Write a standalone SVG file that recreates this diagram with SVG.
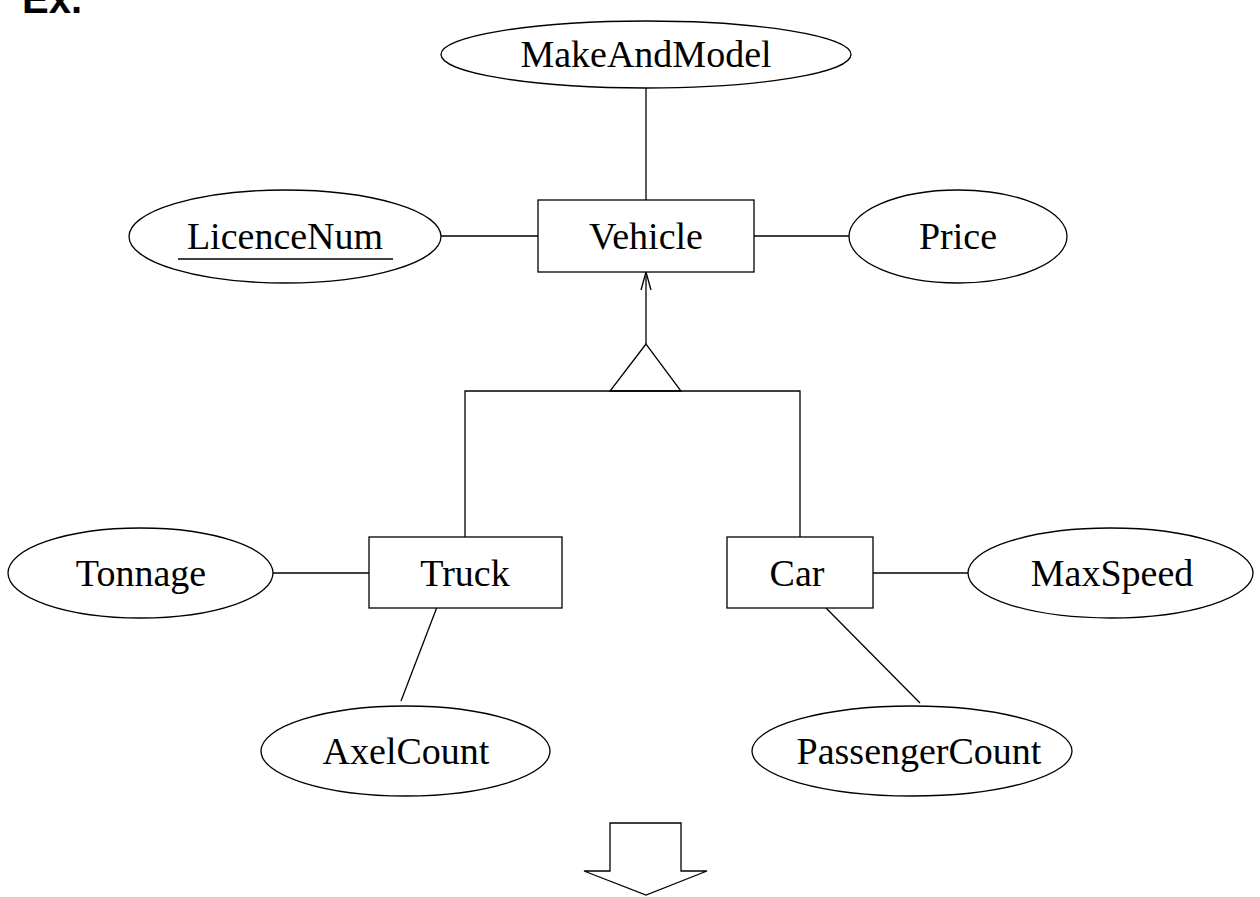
<svg xmlns="http://www.w3.org/2000/svg" width="1260" height="897" viewBox="0 0 1260 897">
<style>
.s{fill:#fff;stroke:#000;stroke-width:1.3}
.l{fill:none;stroke:#000;stroke-width:1.3}
.t{font-family:"Liberation Serif","Times New Roman",serif;font-size:38px;text-anchor:middle;fill:#000}
</style>
<rect width="1260" height="897" fill="#fff"/>
<text x="22" y="13" font-family="Liberation Sans, Arial, sans-serif" font-weight="bold" font-size="40">Ex.</text>
<g id="connectors">
<line class="l" x1="646" y1="88" x2="646" y2="200"/>
<line class="l" x1="441" y1="236" x2="538" y2="236"/>
<line class="l" x1="754" y1="236" x2="849" y2="236"/>
<line class="l" x1="646" y1="272" x2="646" y2="344"/>
<polyline class="l" points="641,290 646,272 651,290"/>
<polygon class="s" points="646,344 610,391 681,391"/>
<polyline class="l" points="465,537 465,391 800,391 800,537"/>
<line class="l" x1="273" y1="573" x2="369" y2="573"/>
<line class="l" x1="873" y1="573" x2="968" y2="573"/>
<line class="l" x1="437" y1="607" x2="401" y2="701"/>
<line class="l" x1="826" y1="608" x2="920" y2="703"/>
</g>
<g id="MakeAndModel"><ellipse class="s" cx="646" cy="54.5" rx="205" ry="33.5"/><text class="t" x="646" y="67">MakeAndModel</text></g>
<g id="Vehicle"><rect class="s" x="538" y="200" width="216" height="72"/><text class="t" x="646" y="249">Vehicle</text></g>
<g id="LicenceNum"><ellipse class="s" cx="285" cy="236.5" rx="156" ry="46.5"/><text class="t" x="285" y="249">LicenceNum</text><line class="l" x1="178" y1="259" x2="393" y2="259"/></g>
<g id="Price"><ellipse class="s" cx="958" cy="236.5" rx="109" ry="46.5"/><text class="t" x="958" y="249">Price</text></g>
<g id="Truck"><rect class="s" x="369" y="537" width="193" height="71"/><text class="t" x="465" y="586">Truck</text></g>
<g id="Car"><rect class="s" x="727" y="537" width="146" height="71"/><text class="t" x="797" y="586">Car</text></g>
<g id="Tonnage"><ellipse class="s" cx="140.5" cy="573" rx="132.5" ry="45"/><text class="t" x="141" y="586">Tonnage</text></g>
<g id="MaxSpeed"><ellipse class="s" cx="1110.5" cy="573" rx="142.5" ry="45"/><text class="t" x="1112" y="586">MaxSpeed</text></g>
<g id="AxelCount"><ellipse class="s" cx="405.5" cy="751" rx="144.5" ry="45"/><text class="t" x="406" y="764">AxelCount</text></g>
<g id="PassengerCount"><ellipse class="s" cx="912" cy="751" rx="160" ry="45"/><text class="t" x="919" y="764">PassengerCount</text></g>
<g id="bigArrow"><polygon class="s" points="610,823 681,823 681,871 707,871 646,895 584,871 610,871"/></g>
</svg>
